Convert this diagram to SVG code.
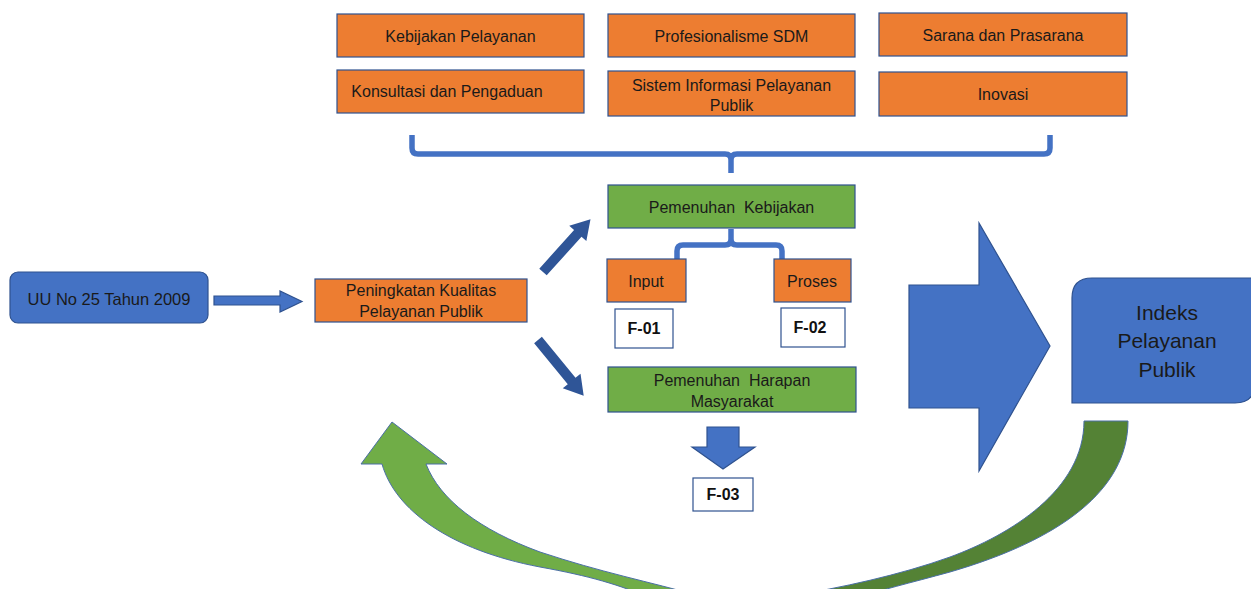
<svg xmlns="http://www.w3.org/2000/svg" width="1251" height="589" viewBox="0 0 1251 589">
<style>
.org{fill:#ED7D31;stroke:#2F528F;stroke-width:1.2}
.grn{fill:#70AD47;stroke:#2F528F;stroke-width:1.2}
.blu{fill:#4472C4;stroke:#2F528F;stroke-width:1.2}
.wht{fill:#FFFFFF;stroke:#2F528F;stroke-width:1.2}
.dark{fill:#2F5597}
.t{font-family:"Liberation Sans",Arial,sans-serif;font-size:16px;fill:#1a1a1a;text-anchor:middle;white-space:pre}
.tb{font-family:"Liberation Sans",Arial,sans-serif;font-size:16px;font-weight:bold;fill:#111;text-anchor:middle}
.br{fill:none;stroke:#4472C4;stroke-width:5.5;stroke-linejoin:round}
</style>
<rect width="1251" height="589" fill="#FFFFFF"/>

<g id="connectors">
  <path class="br" d="M412,135 L412,148 Q412,154 418,154 L725,154 Q731,154 731,160 L731,173 M731,160 Q731,154 737,154 L1044,154 Q1050,154 1050,148 L1050,135"/>
  <path class="br" d="M731,229 L731,239 Q731,245 725,245 L683,245 Q677,245 677,251 L677,260 M731,239 Q731,245 737,245 L776,245 Q782,245 782,251 L782,260"/>
  <path class="blu" d="M214,296 L280,296 L280,291 L302,301.5 L280,312 L280,305 L214,305 Z"/>
  <path class="dark" transform="translate(543,272) rotate(-48)" d="M0,-5 L52,-5 L52,-11.5 L71,0 L52,11.5 L52,5 L0,5 Z"/>
  <path class="dark" transform="translate(538,340) rotate(50.6)" d="M0,-5 L53,-5 L53,-11.5 L72,0 L53,11.5 L53,5 L0,5 Z"/>
  <path class="blu" d="M707,427 L739,427 L739,447 L755,447 L723,469 L692,447 L707,447 Z"/>
  <path class="blu" d="M909,285 L979,285 L979,223 L1050,346 L979,471 L979,408 L909,408 Z"/>
  <path fill="#70AD47" stroke="#4A6FA5" stroke-width="1" d="M392,422 L447,464 L426,464 C440,500 480,530 540,552 C600,572 650,582 700,596 L650,598 C620,585 590,576 540,567 C450,550 395,510 382,464 L361,464 Z"/>
  <path fill="#548235" stroke="#4A6FA5" stroke-width="1" d="M1084,421 L1128,421 C1128,490 1060,540 950,572 C910,583 880,590 850,600 L790,596 C840,588 900,575 950,557 C1010,535 1084,490 1084,421 Z"/>
</g>

<g id="kebijakan-pelayanan">
  <rect class="org" x="337" y="14" width="247" height="43"/>
  <text class="t" x="460.5" y="41.5">Kebijakan Pelayanan</text>
</g>
<g id="profesionalisme-sdm">
  <rect class="org" x="608" y="14" width="247" height="43"/>
  <text class="t" x="731.5" y="41.5">Profesionalisme SDM</text>
</g>
<g id="sarana-prasarana">
  <rect class="org" x="879" y="13" width="248" height="43"/>
  <text class="t" x="1003" y="40.5">Sarana dan Prasarana</text>
</g>
<g id="konsultasi-pengaduan">
  <rect class="org" x="337" y="70" width="247" height="43"/>
  <text class="t" x="447" y="97">Konsultasi dan Pengaduan</text>
</g>
<g id="sistem-informasi">
  <rect class="org" x="608" y="71" width="247" height="45"/>
  <text class="t" x="731.5" y="90.5">Sistem Informasi Pelayanan</text>
  <text class="t" x="731.5" y="111">Publik</text>
</g>
<g id="inovasi">
  <rect class="org" x="879" y="72" width="248" height="44"/>
  <text class="t" x="1003" y="99.5">Inovasi</text>
</g>

<g id="uu">
  <rect class="blu" x="10" y="272" width="198" height="51" rx="8"/>
  <text class="t" x="109" y="305" style="font-size:16.5px">UU No 25 Tahun 2009</text>
</g>
<g id="peningkatan">
  <rect class="org" x="315" y="279" width="212" height="43"/>
  <text class="t" x="421" y="296">Peningkatan Kualitas</text>
  <text class="t" x="421" y="317">Pelayanan Publik</text>
</g>

<g id="pemenuhan-kebijakan">
  <rect class="grn" x="608" y="185" width="247" height="43"/>
  <text class="t" x="731.5" y="212.5">Pemenuhan  Kebijakan</text>
</g>
<g id="input">
  <rect class="org" x="607" y="259" width="79" height="43"/>
  <text class="t" x="646" y="287">Input</text>
</g>
<g id="proses">
  <rect class="org" x="774" y="259" width="77" height="43"/>
  <text class="t" x="812" y="287">Proses</text>
</g>
<g id="f01">
  <rect class="wht" x="615" y="309" width="58" height="39"/>
  <text class="tb" x="644" y="334">F-01</text>
</g>
<g id="f02">
  <rect class="wht" x="781" y="308" width="64" height="39"/>
  <text class="tb" x="810" y="333">F-02</text>
</g>
<g id="pemenuhan-harapan">
  <rect class="grn" x="608" y="367" width="248" height="45"/>
  <text class="t" x="732" y="385.5">Pemenuhan  Harapan</text>
  <text class="t" x="732" y="407">Masyarakat</text>
</g>
<g id="f03">
  <rect class="wht" x="693" y="478" width="60" height="33"/>
  <text class="tb" x="723" y="500">F-03</text>
</g>

<g id="indeks">
  <path class="blu" d="M1072,403 L1072,298 Q1072,278 1092,278 L1255,278 L1255,383 Q1255,403 1235,403 Z"/>
  <text class="t" x="1167" y="320" style="font-size:21px">Indeks</text>
  <text class="t" x="1167" y="348" style="font-size:21px">Pelayanan</text>
  <text class="t" x="1167" y="377" style="font-size:21px">Publik</text>
</g>
</svg>
